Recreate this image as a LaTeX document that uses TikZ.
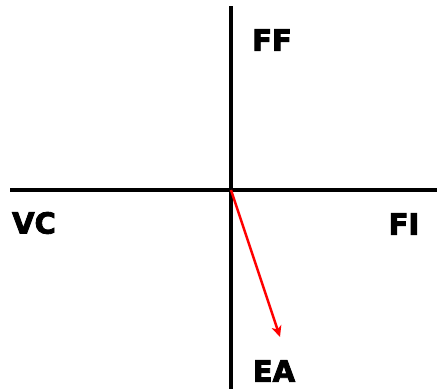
\documentclass[tikz,border=0pt]{standalone}
\usepackage{fontspec}
\setmainfont{DejaVu Sans}[BoldFeatures={FakeBold=3}]
\usetikzlibrary{arrows.meta}
\begin{document}
\begin{tikzpicture}[x=1pt,y=-1pt,
  axis/.style={line width=4.8pt},
  lbl/.style={font=\fontsize{29}{29}\selectfont\bfseries, inner sep=0pt},
  vec/.style={red, line width=2.4pt, -{Stealth[length=11pt,width=10pt,inset=3pt]}}]
  \useasboundingbox (0,0) rectangle (437,389);
  \coordinate (top) at (231,6);
  \coordinate (bottom) at (231,389);
  \coordinate (left) at (10,190);
  \coordinate (right) at (437,190);
  \coordinate (o) at (231,190);
  \coordinate (tip) at (280,337);
  \draw[axis] (top) -- (bottom);
  \draw[axis] (left) -- (right);
  \node[lbl] (ff) at (272,40) {FF};
  \node[lbl] (vc) at (34,223) {VC};
  \node[lbl] (fi) at (404,224) {FI};
  \node[lbl] (ea) at (274,371) {EA};
  \draw[vec] (o) -- (tip);
\end{tikzpicture}
\end{document}
